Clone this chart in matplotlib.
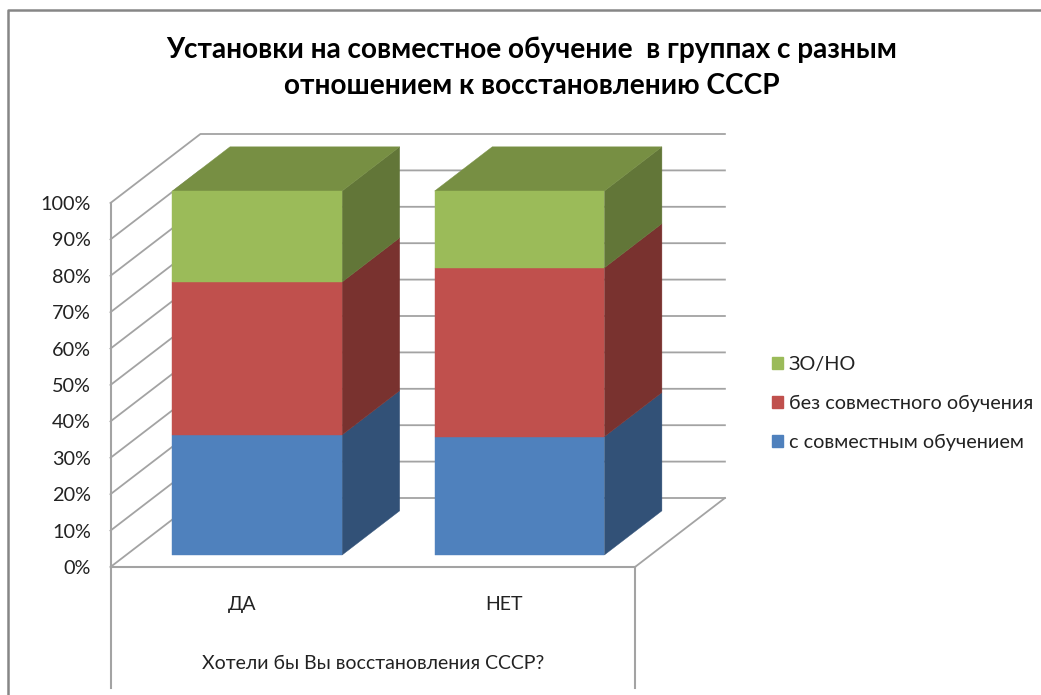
import matplotlib
matplotlib.use('Agg')
import matplotlib.pyplot as plt
from matplotlib.lines import Line2D
from matplotlib.patches import Patch

plt.rcParams['font.family'] = ['Lato', 'Noto Sans', 'DejaVu Sans']

categories = ['ДА', 'НЕТ']
series_names = ['с совместным обучением', 'без совместного обучения', 'ЗО/НО']
with_joint = [33.0, 32.5]
without_joint = [42.0, 46.4]
dont_know = [25.0, 21.1]
y_ticks = [0, 10, 20, 30, 40, 50, 60, 70, 80, 90, 100]
y_labels = ['0%', '10%', '20%', '30%', '40%', '50%', '60%', '70%', '80%', '90%', '100%']

title = 'Установки на совместное обучение  в группах с разным\nотношением к восстановлению СССР'
x_title = 'Хотели бы Вы восстановления СССР?'

front = ['#4F81BD', '#C0504D', '#9BBB59']
side = ['#325177', '#79322F', '#627638']
top_green = '#778F43'
grid_col = '#A3A3A3'
text_col = '#222222'

# oblique depth: one full floor depth in data units (category widths, percent)
DX = 90 / 262.5
DY = 69 / 3.64
BAR_W = 0.647
D0 = 0.174
D1 = 0.174 + 0.64


def proj(x, y, d):
    return x + d * DX, y + d * DY


def face(ax, pts, col, z):
    xs = [p[0] for p in pts]
    ys = [p[1] for p in pts]
    ax.fill(xs, ys, facecolor=col, edgecolor=col, lw=0.3, zorder=z, clip_on=False)


W, H = 1041, 695
fig = plt.figure(figsize=(W / 100, H / 100), dpi=100)
ax = fig.add_axes([110.5 / W, 1 - 567 / H, 524.5 / W, 364 / H])
ax.set_xlim(0, len(categories))
ax.set_ylim(0, 100)
ax.patch.set_visible(False)

for s in ['top', 'right']:
    ax.spines[s].set_visible(False)
for s in ['left', 'bottom']:
    ax.spines[s].set_color(grid_col)
    ax.spines[s].set_linewidth(1.5)

ax.set_yticks(y_ticks)
ax.set_yticklabels(y_labels, fontsize=14.3, color=text_col)
ax.set_xticks([i + 0.5 for i in range(len(categories))])
ax.set_xticklabels(categories, fontsize=14, color=text_col)
ax.tick_params(axis='y', length=0, pad=14)
ax.tick_params(axis='x', length=0, pad=21)
ax.set_xlabel(x_title, fontsize=14, color=text_col, labelpad=30)

# walls and floor
for v in y_ticks:
    x0, y0 = proj(0, v, 0)
    x1, y1 = proj(0, v, 1)
    x2, y2 = proj(2, v, 1)
    ax.plot([x0, x1, x2], [y0, y1, y2], color=grid_col, lw=1.3, zorder=1, clip_on=False)
x0, y0 = proj(2, 0, 0)
x1, y1 = proj(2, 0, 1)
ax.plot([x0, x1], [y0, y1], color=grid_col, lw=1.3, zorder=1, clip_on=False)

# category axis drop lines
for x in [0, 2]:
    ax.plot([x, x], [0, -33.2], color=grid_col, lw=1.5, zorder=1, clip_on=False)

# stacked 3d bars
stack = [with_joint, without_joint, dont_know]
for i in range(len(categories)):
    left = i + (1 - BAR_W) / 2
    right = left + BAR_W
    base = 0
    for k, vals in enumerate(stack):
        t = base + vals[i]
        face(ax, [proj(left, base, D0), proj(right, base, D0),
                  proj(right, t, D0), proj(left, t, D0)], front[k], 4)
        face(ax, [proj(right, base, D0), proj(right, base, D1),
                  proj(right, t, D1), proj(right, t, D0)], side[k], 3)
        base = t
    face(ax, [proj(left, base, D0), proj(right, base, D0),
              proj(right, base, D1), proj(left, base, D1)], top_green, 3)

handles = [Patch(color=front[k], label=series_names[k]) for k in [2, 1, 0]]
leg = fig.legend(handles=handles, loc='center left', bbox_to_anchor=(772 / W, 1 - 403.5 / H),
                 frameon=False, fontsize=14.3, labelspacing=1.08, handlelength=0.55,
                 handleheight=0.55, handletextpad=0.3, borderpad=0, borderaxespad=0,
                 labelcolor=text_col)

fig.text(532 / W, 1 - 68 / H, title, ha='center', va='center', fontsize=20.2,
         fontweight='bold', color='black', linespacing=1.47)

# chart frame
border = '#868686'
fig.add_artist(Line2D([8 / W, 8 / W, 1], [0, 1 - 10 / H, 1 - 10 / H], color=border, lw=1.8))

fig.savefig('out.png', dpi=100)
